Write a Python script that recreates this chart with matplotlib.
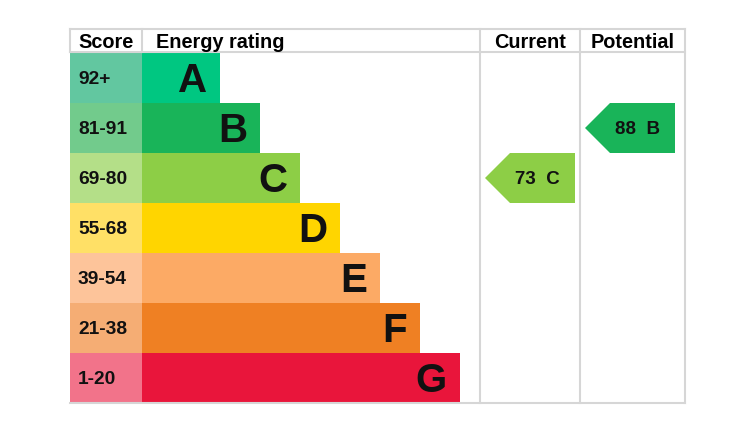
import matplotlib
matplotlib.use('Agg')
import matplotlib.pyplot as plt
from matplotlib.patches import Rectangle, Polygon

plt.rcParams['font.family'] = ['Liberation Sans', 'DejaVu Sans']

# EPC bands
bands = ['A', 'B', 'C', 'D', 'E', 'F', 'G']
score_labels = ['92+', '81-91', '69-80', '55-68', '39-54', '21-38', '1-20']
band_min = [92, 81, 69, 55, 39, 21, 1]
bar_colors = ['#00c781', '#19b459', '#8dce46', '#ffd500', '#fcaa65', '#ef8023', '#e9153b']
score_colors = ['#62c7a0', '#72cb8c', '#b4df88', '#ffe066', '#fdc49a', '#f5ad74', '#f2738a']

current = 73
potential = 88

headers = ['Score', 'Energy rating', 'Current', 'Potential']


def band_of(v):
    for i, m in enumerate(band_min):
        if v >= m:
            return i
    return len(bands) - 1


fig = plt.figure(figsize=(7.38, 4.35), dpi=100)
ax = fig.add_axes([0, 0, 1, 1])
ax.set_xlim(0, 738)
ax.set_ylim(435, 0)
ax.axis('off')

left, right = 70, 685
top, head_bot = 30, 53
row_h = 50
score_w = 72
bar_x0 = left + score_w
col_cur, col_pot = 480, 580
bottom = head_bot + 1 + row_h * len(bands)
grid = '#d6d6d6'

# grid lines
ax.plot([left, right], [top, top], color=grid, lw=1.5)
ax.plot([left, right], [head_bot, head_bot], color=grid, lw=1.5)
ax.plot([left, right], [bottom, bottom], color=grid, lw=1.5)
ax.plot([left, left], [top, head_bot], color=grid, lw=1.5)
ax.plot([bar_x0, bar_x0], [top, head_bot], color=grid, lw=1.5)
for x in (col_cur, col_pot, right):
    ax.plot([x, x], [top, bottom], color=grid, lw=1.5)

# headers
hy = (top + head_bot) / 2 + 1
hfs = 14.3
ax.text(left + 8, hy, headers[0], fontsize=hfs, fontweight='bold', va='center', ha='left')
ax.text(bar_x0 + 14, hy, headers[1], fontsize=hfs, fontweight='bold', va='center', ha='left')
ax.text((col_cur + col_pot) / 2, hy, headers[2], fontsize=hfs, fontweight='bold', va='center', ha='center')
ax.text((col_pot + right) / 2, hy, headers[3], fontsize=hfs, fontweight='bold', va='center', ha='center')

# rows
for i, b in enumerate(bands):
    y0 = head_bot + 1 + i * row_h
    ax.add_patch(Rectangle((left, y0), score_w, row_h, color=score_colors[i], lw=0))
    w = 78 + 40 * i
    ax.add_patch(Rectangle((bar_x0, y0), w, row_h, color=bar_colors[i], lw=0))
    ax.text(left + 8, y0 + row_h / 2 + 1, score_labels[i], fontsize=13.8,
            fontweight='bold', va='center', ha='left', color='#111111')
    ax.text(bar_x0 + w - 13, y0 + row_h / 2 + 2, b, fontsize=29,
            fontweight='bold', va='center', ha='right', color='#111111')


def arrow(x0, x1, value):
    i = band_of(value)
    y0 = head_bot + 1 + i * row_h
    y1 = y0 + row_h
    tip = 25
    pts = [(x0, (y0 + y1) / 2), (x0 + tip, y0), (x1, y0), (x1, y1), (x0 + tip, y1)]
    ax.add_patch(Polygon(pts, closed=True, color=bar_colors[i], lw=0))
    ax.text((x0 + tip + x1) / 2 - 5, (y0 + y1) / 2 + 1, '%d  %s' % (value, bands[i]),
            fontsize=13.5, fontweight='bold', va='center', ha='center', color='#111111')


arrow(col_cur + 5, col_pot - 5, current)
arrow(col_pot + 5, right - 10, potential)

fig.savefig('out.png', dpi=100)
